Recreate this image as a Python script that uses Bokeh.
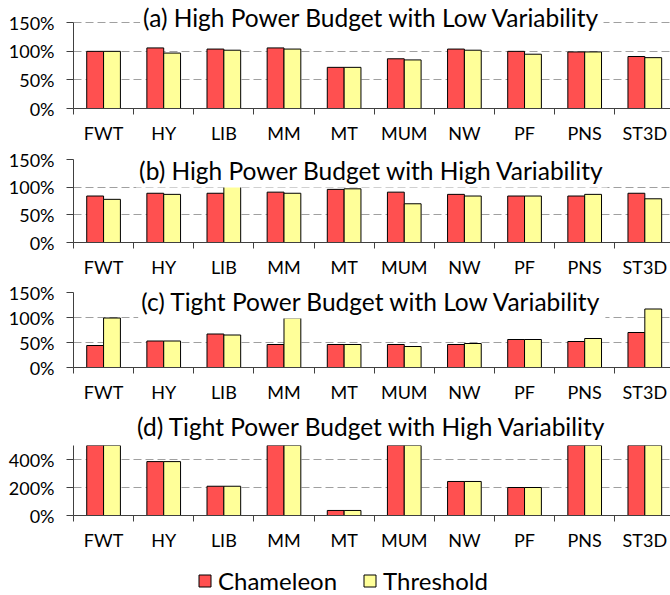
import numpy as np
from bokeh.plotting import figure
from bokeh.layouts import column
from bokeh.models import (ColumnDataSource, FixedTicker, Label, Legend, LegendItem,
                          Range1d, PrintfTickFormatter)
from bokeh.embed import file_html
from bokeh.resources import INLINE

categories = ["FWT", "HY", "LIB", "MM", "MT", "MUM", "NW", "PF", "PNS", "ST3D"]
series_names = ["Chameleon", "Threshold"]

titles = [
    "(a) High Power Budget with Low Variability",
    "(b) High Power Budget with High Variability",
    "(c) Tight Power Budget with Low Variability",
    "(d) Tight Power Budget with High Variability",
]

chameleon_a = [100, 106, 104, 106, 72, 87, 104, 100, 99, 91]
threshold_a = [100, 97, 102, 104, 72, 85, 102, 95, 99, 89]

chameleon_b = [84, 89, 89, 91, 96, 91, 87, 84, 84, 89]
threshold_b = [78, 87, 103, 89, 97, 70, 84, 84, 87, 79]

chameleon_c = [44, 53, 67, 46, 46, 46, 46, 56, 52, 70]
threshold_c = [99, 53, 65, 99, 46, 42, 48, 56, 58, 117]

chameleon_d = [600, 385, 209, 600, 36, 600, 243, 200, 600, 600]
threshold_d = [600, 385, 209, 600, 36, 600, 243, 200, 600, 600]

ticks_abc = [0, 50, 100, 150]
ticks_d = [0, 200, 400]

RED = "#ff5050"
YELLOW = "#ffff99"
FONT = "Lato"
AXIS_COLOR = "#404040"
GRID_COLOR = "#a0a0a0"
TITLE_SIZE = "24.5px"
TICK_SIZE = "18px"

# title_y: None -> use the figure's own title above the frame
panels = [
    dict(cham=chameleon_a, thr=threshold_a, ytop=185.5, bound=150, ticks=ticks_abc,
         title_y=160, T=2, H=109, B=35),
    dict(cham=chameleon_b, thr=threshold_b, ytop=150, bound=150, ticks=ticks_abc,
         title_y=131, T=13, H=86, B=35),
    dict(cham=chameleon_c, thr=threshold_c, ytop=150, bound=150, ticks=ticks_abc,
         title_y=133, T=12, H=78, B=35),
    dict(cham=chameleon_d, thr=threshold_d, ytop=500, bound=500, ticks=ticks_d,
         title_y=None, T=40, H=73, B=35),
]

figs = []
n = len(categories)
centers = np.arange(1, n + 1)
boundaries = list(np.arange(0.5, n + 1, 1.0))
bar_w = 0.28
last_src = None

for i, (pd_, title) in enumerate(zip(panels, titles)):
    height = pd_["T"] + pd_["H"] + pd_["B"]
    p = figure(width=670, height=height, output_backend="svg", toolbar_location=None,
               x_range=Range1d(0.5, 10.427), y_range=Range1d(0, pd_["ytop"]))
    p.min_border_left = 73
    p.min_border_right = 0
    p.min_border_top = pd_["T"]
    p.min_border_bottom = pd_["B"]
    p.outline_line_color = None
    p.background_fill_color = "white"

    src = ColumnDataSource(dict(
        cat=categories,
        xc=centers - bar_w / 2,
        xt=centers + bar_w / 2,
        cham=pd_["cham"],
        thr=pd_["thr"],
    ))
    last_src = src
    p.vbar(x="xc", top="cham", width=bar_w, source=src, fill_color=RED,
           line_color="black", line_width=1)
    p.vbar(x="xt", top="thr", width=bar_w, source=src, fill_color=YELLOW,
           line_color="black", line_width=1)

    # x axis: tick marks at category boundaries (minor), labels at centers
    xa = p.xaxis[0]
    xa.ticker = FixedTicker(ticks=list(centers), minor_ticks=boundaries)
    xa.major_label_overrides = {int(c): cat for c, cat in zip(centers, categories)}
    xa.major_tick_out = 0
    xa.major_tick_in = 0
    xa.minor_tick_out = 6
    xa.minor_tick_in = 0
    xa.minor_tick_line_color = AXIS_COLOR
    xa.axis_line_color = AXIS_COLOR
    xa.major_label_standoff = 7
    xa.major_label_text_font = FONT
    xa.major_label_text_font_size = TICK_SIZE
    xa.major_label_text_color = "black"

    ya = p.yaxis[0]
    ya.ticker = FixedTicker(ticks=pd_["ticks"], minor_ticks=[])
    ya.formatter = PrintfTickFormatter(format="%d%%")
    ya.bounds = (0, pd_["bound"])
    ya.major_tick_out = 7
    ya.major_tick_in = 0
    ya.major_tick_line_color = AXIS_COLOR
    ya.axis_line_color = AXIS_COLOR
    ya.major_label_standoff = 12
    ya.major_label_text_font = FONT
    ya.major_label_text_font_size = TICK_SIZE
    ya.major_label_text_color = "black"

    p.xgrid.visible = False
    p.ygrid.ticker = FixedTicker(ticks=pd_["ticks"][1:], minor_ticks=[])
    p.ygrid.grid_line_color = GRID_COLOR
    p.ygrid.grid_line_dash = "8 4"
    p.ygrid.grid_line_width = 1

    if pd_["title_y"] is not None:
        lbl = Label(x=5.46, y=pd_["title_y"], text=title, text_align="center",
                    text_baseline="middle", text_font=FONT, text_font_size=TITLE_SIZE,
                    text_color="black", background_fill_color="white", padding=3)
        p.add_layout(lbl)
    else:
        p.title.text = title
        p.title.align = "center"
        p.title.text_font = FONT
        p.title.text_font_size = TITLE_SIZE
        p.title.text_font_style = "normal"
        p.title.text_color = "black"
        p.title.standoff = 9

    figs.append(p)

# legend strip (renderers hidden; they only supply the legend swatches)
pl = figure(width=670, height=42, output_backend="svg", toolbar_location=None,
            x_axis_type=None, y_axis_type=None,
            x_range=Range1d(0.5, 10.427), y_range=Range1d(0, 1))
pl.min_border = 0
pl.min_border_left = 73
pl.outline_line_color = None
l1 = pl.vbar(x="xc", top="cham", width=bar_w, source=last_src, fill_color=RED,
             line_color="black", line_width=1, visible=False)
l2 = pl.vbar(x="xt", top="thr", width=bar_w, source=last_src, fill_color=YELLOW,
             line_color="black", line_width=1, visible=False)
legend = Legend(items=[LegendItem(label=series_names[0], renderers=[l1]),
                       LegendItem(label=series_names[1], renderers=[l2])],
                location=(124, 0), orientation="horizontal",
                glyph_width=15, glyph_height=15, label_standoff=6,
                spacing=25, padding=0, margin=0,
                label_text_font=FONT, label_text_font_size="24px",
                label_text_color="black",
                inactive_fill_alpha=0,
                border_line_color=None, background_fill_alpha=0)
pl.add_layout(legend)
figs.append(pl)

layout = column(*figs, spacing=0)
open("out.html", "w").write(file_html(layout, INLINE))
